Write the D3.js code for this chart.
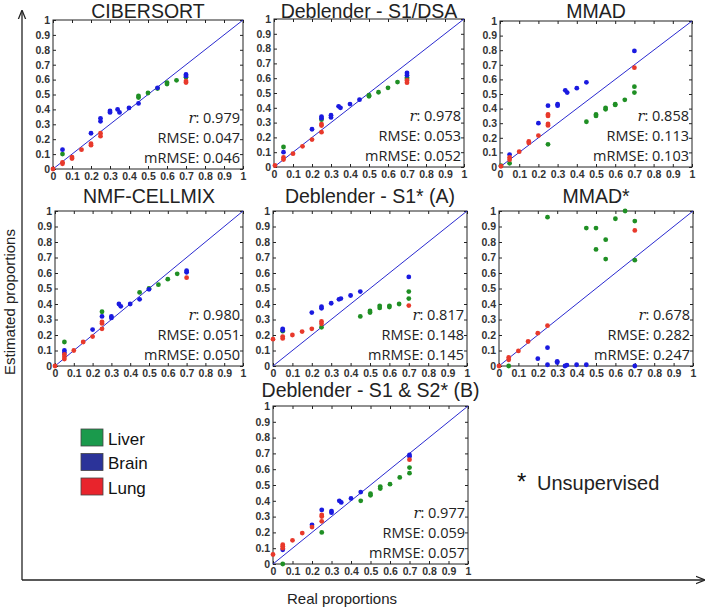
<!DOCTYPE html>
<html>
<head>
<meta charset="utf-8">
<script src="https://cdn.jsdelivr.net/npm/d3@7"></script>
<style>
  body { margin: 0; background: #fff; }
  svg { display: block; }
  text { font-family: "Liberation Sans", Arial, sans-serif; }
</style>
</head>
<body>
<script>
// Panel titles and fit statistics
const methods = ["CIBERSORT", "Deblender - S1/DSA", "MMAD", "NMF-CELLMIX",
  "Deblender - S1* (A)", "MMAD*", "Deblender - S1 & S2* (B)"];
const rValues = ["0.979", "0.978", "0.858", "0.980", "0.817", "0.678", "0.977"];
const rmseValues = ["0.047", "0.053", "0.113", "0.051", "0.148", "0.282", "0.059"];
const mrmseValues = ["0.046", "0.052", "0.103", "0.050", "0.145", "0.247", "0.057"];
const tissues = ["Liver", "Brain", "Lung"];
const tickValues = [0, 0.1, 0.2, 0.3, 0.4, 0.5, 0.6, 0.7, 0.8, 0.9, 1];
const tickLabels = ["0", "0.1", "0.2", "0.3", "0.4", "0.5", "0.6", "0.7", "0.8", "0.9", "1"];

// [real, estimated] per tissue, one list per method
const cibersort = {
  liver: [[0.05,0.10],[0.45,0.49],[0.45,0.48],[0.5,0.51],[0.55,0.54],[0.6,0.58],[0.6,0.57],[0.65,0.595],[0.7,0.615]],
  brain: [[0.05,0.13],[0.2,0.24],[0.25,0.34],[0.25,0.32],[0.3,0.39],[0.3,0.38],[0.34,0.40],[0.35,0.38],[0.4,0.41],[0.45,0.44],[0.55,0.545],[0.7,0.635],[0.7,0.625]],
  lung: [[0,0],[0.05,0.045],[0.05,0.035],[0.1,0.08],[0.1,0.07],[0.15,0.13],[0.2,0.17],[0.2,0.16],[0.25,0.24],[0.25,0.22],[0.7,0.59],[0.7,0.58]]
};
const deblenderDsa = {
  liver: [[0.05,0.135],[0.25,0.32],[0.5,0.485],[0.5,0.478],[0.55,0.505],[0.6,0.535],[0.65,0.574],[0.7,0.605],[0.7,0.595]],
  brain: [[0.05,0.10],[0.2,0.255],[0.25,0.34],[0.25,0.33],[0.3,0.35],[0.3,0.335],[0.34,0.41],[0.35,0.40],[0.4,0.425],[0.45,0.455],[0.7,0.635],[0.7,0.62]],
  lung: [[0.005,0.01],[0.05,0.065],[0.05,0.05],[0.1,0.09],[0.15,0.14],[0.2,0.185],[0.25,0.29],[0.25,0.28],[0.25,0.235],[0.7,0.585],[0.7,0.57]]
};
const mmad = {
  liver: [[0.005,0.01],[0.05,0.025],[0.25,0.155],[0.45,0.31],[0.5,0.36],[0.5,0.35],[0.55,0.405],[0.55,0.395],[0.6,0.43],[0.6,0.425],[0.65,0.46],[0.7,0.55],[0.7,0.51]],
  brain: [[0.05,0.085],[0.2,0.3],[0.25,0.42],[0.3,0.43],[0.3,0.42],[0.34,0.525],[0.35,0.51],[0.4,0.54],[0.45,0.58],[0.7,0.795]],
  lung: [[0.005,0.005],[0.05,0.065],[0.05,0.05],[0.1,0.105],[0.15,0.175],[0.15,0.165],[0.2,0.215],[0.25,0.36],[0.25,0.35],[0.25,0.295],[0.25,0.285],[0.7,0.68]]
};
const nmfCellmix = {
  liver: [[0.05,0.155],[0.25,0.35],[0.45,0.475],[0.5,0.5],[0.55,0.525],[0.6,0.56],[0.65,0.595]],
  brain: [[0.05,0.10],[0.05,0.085],[0.2,0.235],[0.25,0.32],[0.3,0.32],[0.3,0.31],[0.34,0.40],[0.35,0.385],[0.4,0.40],[0.45,0.43],[0.5,0.495],[0.7,0.615],[0.7,0.605]],
  lung: [[0,0],[0.05,0.075],[0.05,0.06],[0.05,0.045],[0.1,0.10],[0.15,0.155],[0.2,0.19],[0.25,0.285],[0.25,0.275],[0.25,0.24],[0.7,0.57]]
};
const deblenderA = {
  liver: [[0.05,0.225],[0.25,0.25],[0.45,0.32],[0.5,0.355],[0.5,0.345],[0.55,0.388],[0.55,0.375],[0.6,0.388],[0.6,0.38],[0.65,0.40],[0.7,0.48],[0.7,0.435]],
  brain: [[0.05,0.24],[0.05,0.23],[0.2,0.345],[0.25,0.383],[0.25,0.372],[0.3,0.405],[0.34,0.43],[0.35,0.435],[0.4,0.455],[0.45,0.48],[0.7,0.575]],
  lung: [[0,0.173],[0.05,0.19],[0.05,0.178],[0.1,0.20],[0.15,0.222],[0.2,0.24],[0.25,0.287],[0.25,0.272],[0.7,0.39]]
};
const mmadUnsup = {
  liver: [[0.05,0],[0.25,0.96],[0.45,0.89],[0.5,0.89],[0.5,0.752],[0.55,0.815],[0.55,0.69],[0.6,0.95],[0.65,1.0],[0.7,0.935],[0.7,0.683]],
  brain: [[0.2,0.047],[0.25,0.118],[0.25,0.008],[0.3,0.03],[0.3,0.022],[0.34,0.0],[0.35,0.006],[0.4,0.008],[0.45,0.008],[0.7,0.0]],
  lung: [[0,0],[0.05,0.055],[0.05,0.04],[0.1,0.097],[0.15,0.158],[0.2,0.212],[0.25,0.26],[0.7,0.875]]
};
const deblenderB = {
  liver: [[0.05,0],[0.25,0.2],[0.45,0.40],[0.5,0.445],[0.5,0.435],[0.55,0.49],[0.55,0.478],[0.6,0.505],[0.65,0.548],[0.7,0.61],[0.7,0.575]],
  brain: [[0.05,0.09],[0.2,0.248],[0.25,0.342],[0.3,0.335],[0.3,0.325],[0.34,0.40],[0.35,0.39],[0.4,0.415],[0.45,0.455],[0.7,0.69],[0.7,0.68]],
  lung: [[0,0.06],[0.05,0.122],[0.05,0.112],[0.05,0.10],[0.1,0.15],[0.15,0.196],[0.2,0.234],[0.25,0.31],[0.25,0.30],[0.25,0.27],[0.7,0.66]]
};
const panelData = [cibersort, deblenderDsa, mmad, nmfCellmix, deblenderA, mmadUnsup, deblenderB];

// Layout (pixel boxes: left, top, right, bottom)
const width = 709, height = 607;
const boxes = [
  [53, 20, 243, 169], [274, 19, 464, 167], [500, 21, 692, 167],
  [55, 211, 243, 366], [273, 211, 467, 366], [499, 211, 693, 366],
  [273, 406, 468, 564]
];
const titleY = [17.5, 17.5, 17.5, 203, 203, 203, 397];
const pointColor = { liver: "#1f8f24", brain: "#1a1ae0", lung: "#e8392b" };
const legendColor = ["#1a9a4c", "#2b3399", "#e8242c"];

const svg = d3.select("body").append("svg")
  .attr("width", width)
  .attr("height", height);

// Arrow marker for the outer axes
svg.append("defs").append("marker")
  .attr("id", "arrow")
  .attr("viewBox", "0 0 10 10")
  .attr("refX", 9).attr("refY", 5)
  .attr("markerWidth", 7).attr("markerHeight", 7)
  .attr("orient", "auto")
  .append("path")
  .attr("d", "M0,1 L10,5 L0,9")
  .attr("fill", "none")
  .attr("stroke", "#222")
  .attr("stroke-width", 1.4);

svg.append("line")
  .attr("x1", 22).attr("y1", 580).attr("x2", 22).attr("y2", 11)
  .attr("stroke", "#222").attr("stroke-width", 1.3)
  .attr("marker-end", "url(#arrow)");
svg.append("line")
  .attr("x1", 22).attr("y1", 580).attr("x2", 704).attr("y2", 580)
  .attr("stroke", "#222").attr("stroke-width", 1.3)
  .attr("marker-end", "url(#arrow)");

svg.append("text")
  .attr("transform", "translate(15,302) rotate(-90)")
  .attr("text-anchor", "middle")
  .attr("font-size", 15)
  .attr("fill", "#222")
  .text("Estimated proportions");
svg.append("text")
  .attr("x", 342).attr("y", 604)
  .attr("text-anchor", "middle")
  .attr("font-size", 15)
  .attr("fill", "#222")
  .text("Real proportions");

methods.forEach((name, i) => {
  const [x0, y0, x1, y1] = boxes[i];
  const x = d3.scaleLinear().domain([0, 1]).range([x0, x1]);
  const y = d3.scaleLinear().domain([0, 1]).range([y1, y0]);
  const g = svg.append("g");

  // title
  g.append("text")
    .attr("x", (x0 + x1) / 2).attr("y", titleY[i])
    .attr("text-anchor", "middle")
    .attr("font-size", 19.5)
    .attr("fill", "#222")
    .text(name);

  // frame with inward ticks on every side
  g.append("g").attr("transform", `translate(0,${y1})`)
    .call(d3.axisBottom(x).tickValues(tickValues).tickSize(-3).tickFormat((d, k) => tickLabels[k]).tickPadding(4))
    .call(a => a.select(".domain").remove());
  g.append("g").attr("transform", `translate(0,${y0})`)
    .call(d3.axisTop(x).tickValues(tickValues).tickSize(-3).tickFormat(""))
    .call(a => a.select(".domain").remove());
  g.append("g").attr("transform", `translate(${x0},0)`)
    .call(d3.axisLeft(y).tickValues(tickValues).tickSize(-3).tickFormat((d, k) => tickLabels[k]).tickPadding(3))
    .call(a => a.select(".domain").remove());
  g.append("g").attr("transform", `translate(${x1},0)`)
    .call(d3.axisRight(y).tickValues(tickValues).tickSize(-3).tickFormat(""))
    .call(a => a.select(".domain").remove());
  g.selectAll(".tick line").attr("stroke", "#222");
  g.selectAll(".tick text")
    .attr("font-family", "'Liberation Sans', Arial, sans-serif")
    .attr("font-size", 10.5)
    .attr("font-weight", "bold")
    .attr("fill", "#333");

  g.append("rect")
    .attr("x", x0).attr("y", y0)
    .attr("width", x1 - x0).attr("height", y1 - y0)
    .attr("fill", "none")
    .attr("stroke", "#222")
    .attr("stroke-width", 1);

  // identity line
  g.append("line")
    .attr("x1", x(0)).attr("y1", y(0))
    .attr("x2", x(1)).attr("y2", y(1))
    .attr("stroke", "#2a2ad0")
    .attr("stroke-width", 1);

  // points
  const pts = panelData[i];
  ["liver", "brain", "lung"].forEach(key => {
    g.append("g").selectAll("circle")
      .data(pts[key])
      .join("circle")
      .attr("cx", d => x(d[0]))
      .attr("cy", d => y(d[1]))
      .attr("r", 2.4)
      .attr("fill", pointColor[key]);
  });

  // statistics, right aligned
  const stat = g.append("g")
    .attr("text-anchor", "end")
    .attr("font-size", 14.5)
    .attr("fill", "#222");
  const rLine = stat.append("text")
    .attr("x", x1 - 3).attr("y", y1 - 46)
    .style("font-family", "'Open Sans', sans-serif");
  rLine.append("tspan")
    .style("font-family", "'DejaVu Serif', serif")
    .style("font-style", "italic")
    .text("r");
  rLine.append("tspan").text(": " + rValues[i]);
  stat.append("text")
    .attr("x", x1 - 3).attr("y", y1 - 26)
    .style("font-family", "'Open Sans', sans-serif")
    .text("RMSE: " + rmseValues[i]);
  stat.append("text")
    .attr("x", x1 - 3).attr("y", y1 - 6)
    .style("font-family", "'Open Sans', sans-serif")
    .text("mRMSE: " + mrmseValues[i]);
});

// legend
const legend = svg.append("g")
  .selectAll("g")
  .data(tissues)
  .join("g")
  .attr("transform", (d, i) => `translate(81,${429 + i * 24.5})`);
legend.append("rect")
  .attr("width", 22).attr("height", 17)
  .attr("fill", (d, i) => legendColor[i])
  .attr("stroke", "#444")
  .attr("stroke-width", 0.8);
legend.append("text")
  .attr("x", 27).attr("y", 15.5)
  .attr("font-size", 17)
  .attr("fill", "#111")
  .text(d => d);

// unsupervised note
svg.append("text")
  .attr("x", 517).attr("y", 490)
  .attr("font-size", 24)
  .attr("fill", "#111")
  .text("*");
svg.append("text")
  .attr("x", 537).attr("y", 490)
  .attr("font-size", 20)
  .attr("fill", "#222")
  .text("Unsupervised");
</script>
</body>
</html>
